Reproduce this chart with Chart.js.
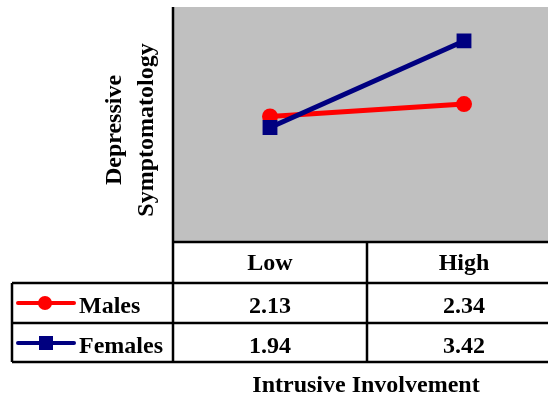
<!DOCTYPE html>
<html>
<head>
<meta charset="utf-8">
<script src="https://cdn.jsdelivr.net/npm/chart.js@4/dist/chart.umd.min.js"></script>
<style>
  html, body { margin: 0; padding: 0; background: #fff; overflow: hidden; width: 548px; height: 396px; }
  canvas { display: block; }
</style>
</head>
<body>
<canvas id="myChart" width="562" height="396"></canvas>
<script>
const categories = ['Low', 'High'];
const seriesNames = ['Males', 'Females'];
const males = [2.13, 2.34];
const females = [1.94, 3.42];
const yTitle = ['Depressive', 'Symptomatology'];
const xTitle = 'Intrusive Involvement';

const RED = '#ff0000';
const NAVY = '#000080';
const FONT = 'bold 24px "Liberation Serif", "Times New Roman", serif';

// plot background, axis line, data table and titles
const tablePlugin = {
  id: 'table',
  beforeDatasetsDraw(chart) {
    const { ctx, chartArea } = chart;
    ctx.save();
    ctx.fillStyle = '#c0c0c0';
    ctx.fillRect(chartArea.left, chartArea.top, chartArea.right - chartArea.left, chartArea.bottom - chartArea.top);
    ctx.restore();
  },
  afterDraw(chart) {
    const { ctx, chartArea } = chart;
    const x = chart.scales.x;
    const left = chartArea.left;
    const right = chart.width;
    const top = chartArea.top;
    const bottom = chartArea.bottom + 1;
    const rowH = 40;
    const headH = 41;
    const tableLeft = 12;
    const rowTops = [bottom + headH, bottom + headH + rowH];
    const tableBottom = rowTops[1] + rowH - 1;

    ctx.save();
    ctx.strokeStyle = '#000';
    ctx.lineWidth = 2.5;
    ctx.beginPath();
    ctx.moveTo(left, top);
    ctx.lineTo(left, tableBottom);
    ctx.moveTo(left, bottom);
    ctx.lineTo(right, bottom);
    ctx.moveTo(tableLeft, rowTops[0]);
    ctx.lineTo(right, rowTops[0]);
    ctx.moveTo(tableLeft, rowTops[1]);
    ctx.lineTo(right, rowTops[1]);
    ctx.moveTo(tableLeft, tableBottom);
    ctx.lineTo(right, tableBottom);
    ctx.moveTo(tableLeft, rowTops[0]);
    ctx.lineTo(tableLeft, tableBottom);
    const mid = (x.getPixelForValue(0) + x.getPixelForValue(1)) / 2;
    ctx.moveTo(mid, bottom);
    ctx.lineTo(mid, tableBottom);
    ctx.stroke();

    ctx.fillStyle = '#000';
    ctx.font = FONT;
    ctx.textAlign = 'center';
    ctx.textBaseline = 'alphabetic';
    categories.forEach((c, i) => {
      ctx.fillText(c, x.getPixelForValue(i), bottom + 28);
    });
    [males, females].forEach((vals, r) => {
      vals.forEach((v, i) => {
        ctx.fillText(v.toFixed(2), x.getPixelForValue(i), rowTops[r] + 30);
      });
    });

    // legend keys
    const colors = [RED, NAVY];
    seriesNames.forEach((name, r) => {
      const cy = rowTops[r] + 20;
      ctx.strokeStyle = colors[r];
      ctx.fillStyle = colors[r];
      ctx.lineWidth = 4;
      ctx.lineCap = 'round';
      ctx.beginPath();
      ctx.moveTo(18, cy);
      ctx.lineTo(74, cy);
      ctx.stroke();
      if (r === 0) {
        ctx.beginPath();
        ctx.arc(45, cy, 7, 0, Math.PI * 2);
        ctx.fill();
      } else {
        ctx.fillRect(39, cy - 7, 14, 14);
      }
      ctx.fillStyle = '#000';
      ctx.textAlign = 'left';
      ctx.fillText(name, 79, rowTops[r] + 30);
    });

    ctx.textAlign = 'center';
    ctx.fillText(xTitle, 366, 392);

    // y title, two rotated lines
    ctx.translate(0, 130);
    ctx.rotate(-Math.PI / 2);
    ctx.fillText(yTitle[0], 0, 121);
    ctx.fillText(yTitle[1], 0, 153);
    ctx.restore();
  }
};

new Chart(document.getElementById('myChart'), {
  type: 'line',
  data: {
    labels: categories,
    datasets: [
      {
        label: seriesNames[0],
        data: males,
        borderColor: RED,
        backgroundColor: RED,
        borderWidth: 5,
        pointStyle: 'circle',
        pointRadius: 8,
        pointBorderWidth: 0,
        order: 1
      },
      {
        label: seriesNames[1],
        data: females,
        borderColor: NAVY,
        backgroundColor: NAVY,
        borderWidth: 5,
        pointStyle: 'rect',
        pointRadius: 10.5,
        pointBorderWidth: 0,
        order: 0
      }
    ]
  },
  options: {
    responsive: false,
    animation: false,
    layout: { autoPadding: false, padding: { left: 173, top: 7, right: 1, bottom: 155 } },
    plugins: { legend: { display: false }, tooltip: { enabled: false } },
    scales: {
      x: { display: false, offset: true },
      y: { display: false, min: 0, max: 4 }
    }
  },
  plugins: [tablePlugin]
});
</script>
</body>
</html>
